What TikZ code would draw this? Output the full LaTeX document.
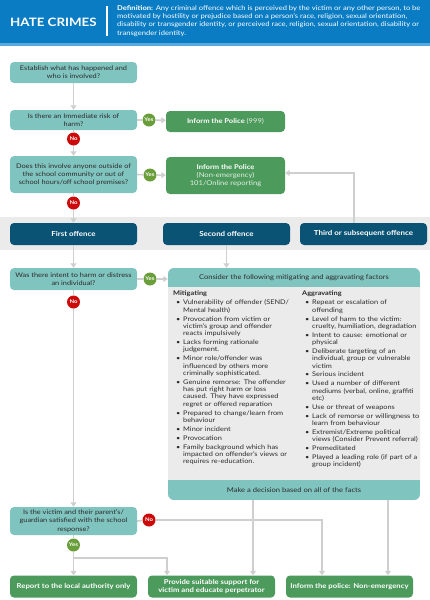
\documentclass[tikz,border=0pt]{standalone}
\usepackage{fontspec}
\setmainfont{Lato}[FakeStretch=1.15]
\usetikzlibrary{arrows.meta,positioning}

\definecolor{hcblue}{HTML}{0A7CC3}
\definecolor{hcstrip}{HTML}{5AAADE}
\definecolor{qteal}{HTML}{80C4C0}
\definecolor{actgreen}{HTML}{4C9A5C}
\definecolor{stageblue}{HTML}{0B5375}
\definecolor{yesgreen}{HTML}{6A9E3A}
\definecolor{nored}{HTML}{CC0A0A}
\definecolor{linkgrey}{HTML}{CFCFCF}
\definecolor{bandgrey}{HTML}{EBEBEB}
\definecolor{bodytext}{HTML}{2B2B2B}

\newcommand\fitem{\par\hangindent=10pt\hangafter=1\hspace*{3pt}\makebox[7pt][l]{\textbullet}}

\begin{document}
\begin{tikzpicture}[x=1pt,y=-1pt,
    quest/.style={fill=qteal, rounded corners=4pt, minimum width=127pt, align=center,
        text=bodytext, inner sep=1pt, font=\fontsize{6.4}{8.3}\selectfont},
    act/.style={fill=actgreen, rounded corners=4pt, minimum width=119pt, align=center,
        text=white, inner sep=1pt, font=\fontsize{6.6}{8.2}\selectfont},
    stage/.style={fill=stageblue, rounded corners=4pt, minimum width=127pt, minimum height=22pt,
        text=white, font=\bfseries\fontsize{6.9}{8}\selectfont},
    outcome/.style={fill=actgreen, rounded corners=4pt, minimum width=127pt, minimum height=22pt,
        align=center, text=white, inner sep=1pt, font=\bfseries\fontsize{6.7}{7.8}\selectfont},
    yes/.style={circle, fill=yesgreen, text=white, inner sep=0pt, minimum size=13pt,
        font=\bfseries\fontsize{5.2}{6}\selectfont},
    no/.style={yes, fill=nored},
    link/.style={draw=linkgrey, line width=1.6pt},
    linka/.style={link, -{Triangle[length=4.5pt,width=6pt]}},
    factlist/.style={anchor=north west, text width=140pt, align=left, inner sep=0pt,
        text=bodytext, font=\fontsize{6.4}{7.3}\selectfont}]
\useasboundingbox (0,0) rectangle (430,600);

% header
\fill[hcblue] (0,0) rectangle (430,43);
\fill[hcstrip] (0,43) rectangle (430,45.5);
\node[anchor=west, text=white, font=\bfseries\fontsize{11.6}{14}\selectfont, inner sep=0pt] (title) at (10,22) {HATE CRIMES};
\draw[white, line width=1.2pt] (107,6) -- (107,36);
\node[anchor=north west, text=white, align=left, inner sep=0pt, font=\fontsize{6.6}{8.3}\selectfont] (definition) at (117,5)
    {\textbf{Definition:} Any criminal offence which is perceived by the victim or any other person, to be\\
     motivated by hostility or prejudice based on a person's race, religion, sexual orientation,\\
     disability or transgender identity, or perceived race, religion, sexual orientation, disability or\\
     transgender identity.};

\fill[bandgrey] (0,217) rectangle (430,250);

\node[quest, minimum height=21pt] (establish) at (73.5,72.5) {Establish what has happened and\\who is involved?};
\node[quest, minimum height=20pt] (risk) at (73.5,120) {Is there an Immediate risk of\\harm?};
\node[quest, minimum height=37pt] (outside) at (73.5,174.5) {Does this involve anyone outside of\\the school community or out of\\school hours/off school premises?};
\node[act, minimum height=21pt] (police999) at (225.5,121.5) {\textbf{Inform the Police} \textcolor{white!85!actgreen}{(999)}};
\node[act, minimum height=37pt] (police101) at (225.5,175.5) {\textbf{Inform the Police}\\\textcolor{white!85!actgreen}{(Non-emergency)}\\\textcolor{white!85!actgreen}{101/Online reporting}};

\node[stage] (first) at (73.5,234) {First offence};
\node[stage] (second) at (226.5,234) {Second offence};
\node[stage] (third) at (363.5,234) {Third or subsequent offence};

\node[quest, minimum height=22pt] (intent) at (73.5,279) {Was there intent to harm or distress\\an individual?};

% factors box
\fill[bandgrey, rounded corners=6pt] (168,268) rectangle (420,500);
\begin{scope}
\clip[rounded corners=6pt] (168,268) rectangle (420,500);
\fill[qteal] (168,268) rectangle (420,287);
\fill[qteal] (168,480) rectangle (420,500);
\end{scope}
\node[minimum width=252pt, minimum height=19pt, text=bodytext, font=\fontsize{6.6}{8}\selectfont] (factors) at (294,277.5) {Consider the following mitigating and aggravating factors};
\node[minimum width=252pt, minimum height=20pt, text=bodytext, font=\fontsize{6.6}{8}\selectfont] (decide) at (294,490) {Make a decision based on all of the facts};

\node[factlist] (mitigating) at (173,291) {\setlength\parskip{1.6pt}\textbf{Mitigating}
\fitem Vulnerability of offender (SEND/\newline Mental health)
\fitem Provocation from victim or\newline victim's group and offender\newline reacts impulsively
\fitem Lacks forming rationale\newline judgement.
\fitem Minor role/offender was\newline influenced by others more\newline criminally sophisticated.
\fitem Genuine remorse: The offender\newline has put right harm or loss\newline caused. They have expressed\newline regret or offered reparation
\fitem Prepared to change/learn from\newline behaviour
\fitem Minor incident
\fitem Provocation
\fitem Family background which has\newline impacted on offender's views or\newline requires re-education.\par};

\node[factlist] (aggravating) at (302,291) {\setlength\parskip{1.6pt}\textbf{Aggravating}
\fitem Repeat or escalation of\newline offending
\fitem Level of harm to the victim:\newline cruelty, humiliation, degradation
\fitem Intent to cause: emotional or\newline physical
\fitem Deliberate targeting of an\newline individual, group or vulnerable\newline victim
\fitem Serious incident
\fitem Used a number of different\newline mediums (verbal, online, graffiti\newline etc)
\fitem Use or threat of weapons
\fitem Lack of remorse or willingness to\newline learn from behaviour
\fitem Extremist/Extreme political\newline views (Consider Prevent referral)
\fitem Premeditated
\fitem Played a leading role (if part of a\newline group incident)\par};

\node[quest, minimum height=28pt] (satisfied) at (73.5,521) {Is the victim and their parent's/\\guardian satisfied with the school\\response?};

\node[outcome] (report) at (73.5,586.5) {Report to the local authority only};
\node[outcome] (support) at (211.5,586.5) {Provide suitable support for\\victim and educate perpetrator};
\node[outcome] (informnon) at (349.5,586.5) {Inform the police: Non-emergency};

% decisions
\node[yes] (yes1) at (149,120) {Yes};
\node[no] (no1) at (73.5,139) {No};
\node[yes] (yes2) at (150,175) {Yes};
\node[no] (no2) at (73.5,203) {No};
\node[yes] (yes3) at (150,279) {Yes};
\node[no] (no3) at (73.5,302) {No};
\node[no] (no4) at (149,520) {No};
\node[yes] (yes4) at (73.5,545) {Yes};

\coordinate (split) at (73.5,558);
\coordinate (splitend) at (167,558);
\coordinate (nobend) at (322,520);
\coordinate (factsA) at (253,500);
\coordinate (factsB) at (388,500);

\draw[linka] (establish) -- (risk);
\draw[link] (risk.east) -- (yes1);
\draw[linka] (yes1) -- (police999);
\draw[link] (risk) -- (no1);
\draw[linka] (no1) -- (outside);
\draw[link] (outside.east) -- (yes2);
\draw[linka] (yes2) -- (police101);
\draw[link] (outside) -- (no2);
\draw[linka] (no2) -- (first);
\draw[linka] ([xshift=-9.5pt]third.north) |- ([yshift=2.5pt]police101.east);
\draw[linka] (first) -- (intent);
\draw[linka] (second.south) -- (second.south |- factors.north);
\draw[link] (intent.east) -- (yes3);
\draw[linka] (yes3) -- (yes3 -| factors.west);
\draw[link] (intent) -- (no3);
\draw[linka] (no3) -- (satisfied);
\draw[link] (satisfied.east) -- (no4);
\draw[linka] (no4) -- (nobend) -- (nobend |- informnon.north);
\draw[link] (satisfied) -- (yes4);
\draw[linka] (yes4) -- (report);
\draw[linka] (split) -- (splitend) -- (splitend |- support.north);
\draw[linka] (factsA) -- (factsA |- support.north);
\draw[linka] (factsB) -- (factsB |- informnon.north);
\end{tikzpicture}
\end{document}
